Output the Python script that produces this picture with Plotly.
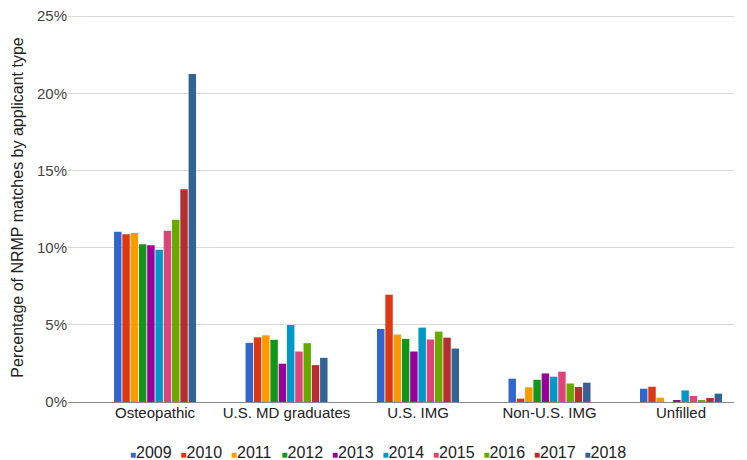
import plotly.graph_objects as go

categories = ["Osteopathic", "U.S. MD graduates", "U.S. IMG", "Non-U.S. IMG", "Unfilled"]
years = ["2009", "2010", "2011", "2012", "2013", "2014", "2015", "2016", "2017", "2018"]
colors = ["#3366CC", "#DC3912", "#FF9900", "#109618", "#990099",
          "#0099C6", "#DD4477", "#66AA00", "#B82E2E", "#316395"]

# percentages per year, in category order
v2009 = [11.03, 3.83, 4.73, 1.51, 0.86]
v2010 = [10.86, 4.19, 6.95, 0.22, 0.99]
v2011 = [10.95, 4.32, 4.37, 0.95, 0.28]
v2012 = [10.22, 4.03, 4.09, 1.44, 0.00]
v2013 = [10.15, 2.48, 3.27, 1.85, 0.13]
v2014 = [9.87, 4.99, 4.82, 1.64, 0.75]
v2015 = [11.10, 3.27, 4.05, 1.96, 0.39]
v2016 = [11.81, 3.81, 4.56, 1.20, 0.09]
v2017 = [13.79, 2.39, 4.17, 0.97, 0.26]
v2018 = [21.25, 2.86, 3.46, 1.25, 0.54]
values = [v2009, v2010, v2011, v2012, v2013, v2014, v2015, v2016, v2017, v2018]

fig = go.Figure()
for yr, col, vals in zip(years, colors, values):
    fig.add_trace(go.Bar(
        x=categories, y=vals, name=yr, marker=dict(color=col, line=dict(width=0)),
        legendgroup=yr, showlegend=False,
        hovertemplate="%{x}<br>" + yr + ": %{y:.2f}%<extra></extra>",
    ))

# compact legend entries: colored square glyph + year
for i, (yr, col) in enumerate(zip(years, colors)):
    fig.add_trace(go.Scatter(
        x=[None], y=[None], mode="lines", legendgroup=yr,
        line=dict(color="rgba(0,0,0,0)", width=0),
        name=f"<span style='color:{col};font-size:10px'>■</span>{yr}",
        legendwidth=(45 if i == len(years) - 1 else 5.5),
        hoverinfo="skip",
    ))

# the page body has an 8px default margin, so the figure is sized/offset for it
fig.update_layout(
    width=739, height=452,
    margin=dict(l=60, r=13, t=5, b=57.5, autoexpand=False),
    paper_bgcolor="white", plot_bgcolor="white",
    font=dict(family="Liberation Sans, Arial, sans-serif", size=15, color="#222222"),
    barmode="group", bargap=0.37, bargroupgap=0.1,
    showlegend=True,
    legend=dict(orientation="h", x=0.033, xanchor="left", y=-0.084, yanchor="top",
                font=dict(size=16, color="#222222"), itemwidth=30,
                bgcolor="rgba(0,0,0,0)", traceorder="normal"),
)
fig.update_xaxes(
    type="category", range=[-0.662, 4.403], showgrid=False, automargin=False,
    showline=False, ticks="", tickfont=dict(size=15, color="#222222"),
)
fig.update_yaxes(
    range=[0, 25.2], dtick=5, tick0=0, ticksuffix="%", ticklabeloverflow="allow",
    showgrid=True, gridcolor="#d9d9d9",
    gridwidth=1, zeroline=True, zerolinecolor="#888888", zerolinewidth=1,
    tickfont=dict(size=15, color="#444444"), ticks="", automargin=False,
    title=dict(text="Percentage of NRMP matches by applicant type",
               font=dict(size=16, color="#222222"), standoff=9),
)

fig.write_html("out.html")
